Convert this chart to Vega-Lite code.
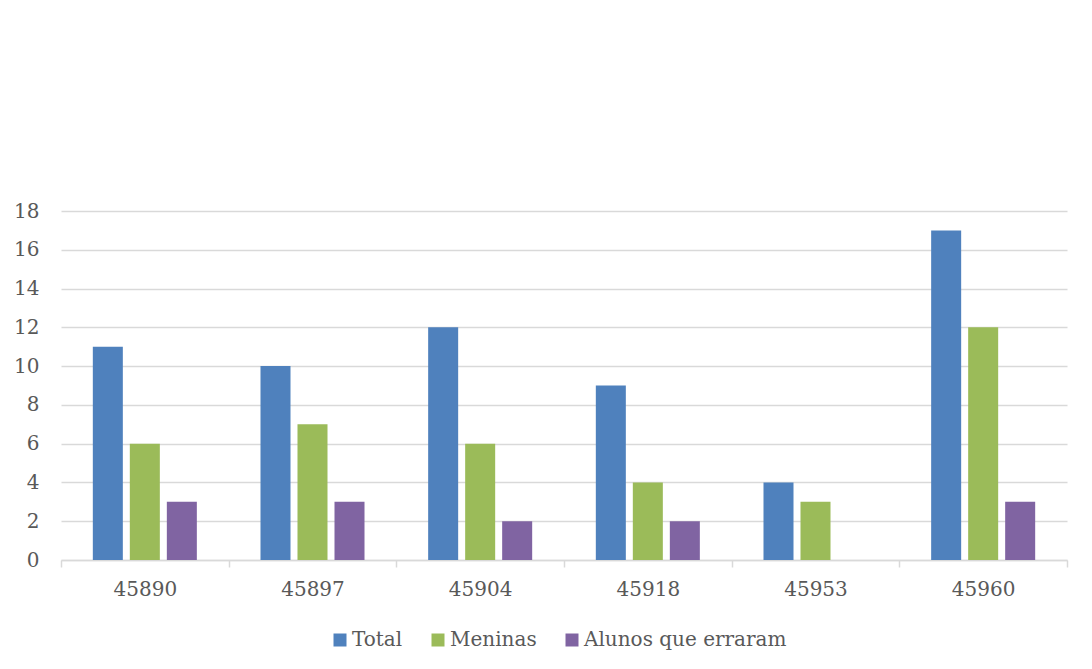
{
  "$schema": "https://vega.github.io/schema/vega-lite/v6.json",
  "autosize": {"type": "none"},
  "padding": {"left": 61, "top": 211, "right": 25, "bottom": 109},
  "width": 1006,
  "height": 349,
  "background": "white",
  "data": {
    "values": [
      {"data": "45890", "serie": "Total", "valor": 11},
      {"data": "45890", "serie": "Meninas", "valor": 6},
      {"data": "45890", "serie": "Alunos que erraram", "valor": 3},
      {"data": "45897", "serie": "Total", "valor": 10},
      {"data": "45897", "serie": "Meninas", "valor": 7},
      {"data": "45897", "serie": "Alunos que erraram", "valor": 3},
      {"data": "45904", "serie": "Total", "valor": 12},
      {"data": "45904", "serie": "Meninas", "valor": 6},
      {"data": "45904", "serie": "Alunos que erraram", "valor": 2},
      {"data": "45918", "serie": "Total", "valor": 9},
      {"data": "45918", "serie": "Meninas", "valor": 4},
      {"data": "45918", "serie": "Alunos que erraram", "valor": 2},
      {"data": "45953", "serie": "Total", "valor": 4},
      {"data": "45953", "serie": "Meninas", "valor": 3},
      {"data": "45953", "serie": "Alunos que erraram", "valor": 0},
      {"data": "45960", "serie": "Total", "valor": 17},
      {"data": "45960", "serie": "Meninas", "valor": 12},
      {"data": "45960", "serie": "Alunos que erraram", "valor": 3}
    ]
  },
  "mark": {"type": "bar"},
  "encoding": {
    "x": {
      "field": "data",
      "type": "nominal",
      "sort": null,
      "scale": {"paddingInner": 0, "paddingOuter": 0},
      "axis": {
        "title": null,
        "labelAngle": 0,
        "tickBand": "extent",
        "grid": false,
        "domainColor": "#d9d9d9",
        "domainWidth": 1.5,
        "tickColor": "#d9d9d9",
        "tickWidth": 1.5,
        "tickSize": 7,
        "labelPadding": 12,
        "labelFont": "DejaVu Serif",
        "labelFontSize": 20,
        "labelColor": "#595959"
      }
    },
    "xOffset": {
      "field": "serie",
      "type": "nominal",
      "sort": ["Total", "Meninas", "Alunos que erraram"],
      "scale": {"paddingInner": 0.189, "paddingOuter": 0.86}
    },
    "y": {
      "field": "valor",
      "type": "quantitative",
      "scale": {"domain": [0, 18]},
      "axis": {
        "title": null,
        "values": [0, 2, 4, 6, 8, 10, 12, 14, 16, 18],
        "labelOverlap": false,
        "domain": false,
        "ticks": false,
        "gridColor": "#d9d9d9",
        "gridWidth": 1.5,
        "labelPadding": 22,
        "labelFont": "DejaVu Serif",
        "labelFontSize": 20,
        "labelColor": "#595959"
      }
    },
    "color": {
      "field": "serie",
      "type": "nominal",
      "sort": ["Total", "Meninas", "Alunos que erraram"],
      "scale": {
        "domain": ["Total", "Meninas", "Alunos que erraram"],
        "range": ["#4f81bd", "#9bbb59", "#8064a2"]
      },
      "legend": {
        "title": null,
        "orient": "none",
        "legendX": 269,
        "legendY": 419,
        "direction": "horizontal",
        "symbolType": "square",
        "symbolSize": 169,
        "symbolStrokeWidth": 0,
        "labelFont": "DejaVu Serif",
        "labelFontSize": 20,
        "labelColor": "#595959",
        "labelOffset": 2,
        "labelLimit": 0,
        "columnPadding": 25
      }
    }
  },
  "config": {
    "view": {"stroke": null}
  }
}
